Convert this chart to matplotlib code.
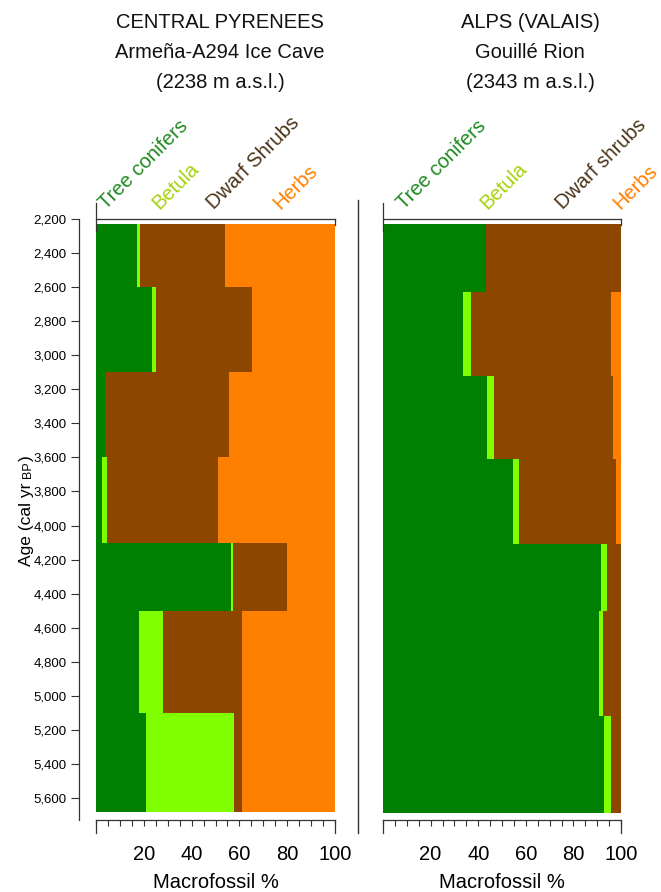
import numpy as np
import matplotlib
matplotlib.use('Agg')
import matplotlib.pyplot as plt
from matplotlib.lines import Line2D
from matplotlib.transforms import blended_transform_factory

plt.rcParams['font.family'] = ['Liberation Sans', 'DejaVu Sans']

# --- data (ages in cal yr BP, values in %) ---
taxa_pyr = ['Tree conifers', 'Betula', 'Dwarf Shrubs', 'Herbs']
taxa_alps = ['Tree conifers', 'Betula', 'Dwarf shrubs', 'Herbs']

pyr_top = [2230, 2600, 3100, 3600, 4100, 4500, 5100]
pyr_bottom = [2600, 3100, 3600, 4100, 4500, 5100, 5680]
pyr_conifers = [17.2, 23.3, 3.8, 2.4, 56.3, 18.0, 20.9]
pyr_betula = [1.2, 1.7, 0.0, 2.1, 0.9, 10.2, 36.7]
pyr_shrubs = [35.6, 40.3, 51.8, 46.5, 22.8, 32.8, 3.6]
pyr_herbs = [46.0, 34.7, 44.4, 49.0, 20.0, 39.0, 38.8]

alps_top = [2230, 2630, 3120, 3610, 4110, 4500, 5120]
alps_bottom = [2630, 3120, 3610, 4110, 4500, 5120, 5690]
alps_conifers = [43.1, 33.5, 43.9, 54.5, 91.8, 90.8, 92.7]
alps_betula = [0.0, 3.4, 2.7, 2.8, 2.5, 1.8, 3.1]
alps_shrubs = [56.9, 59.1, 49.9, 40.5, 5.7, 7.4, 4.2]
alps_herbs = [0.0, 4.0, 3.5, 2.2, 0.0, 0.0, 0.0]

age_ticks = list(range(2200, 5601, 200))

fill_colors = ['#008000', '#80ff00', '#8c4600', '#ff8000']
label_colors = ['#1f8a1f', '#a6d10a', '#4a3318', '#ff8000']
line_col = '#333333'

fig = plt.figure(figsize=(6.61, 8.92), dpi=100)
ax1 = fig.add_axes([96 / 661, 0.0805, 239 / 661, 0.674])
ax2 = fig.add_axes([383 / 661, 0.0805, 238 / 661, 0.674])


def draw_panel(ax, top, bottom, series, taxa, label_x):
    top = np.array(top, dtype=float)
    height = np.array(bottom, dtype=float) - top
    left = np.zeros(len(top))
    for vals, col in zip(series, fill_colors):
        vals = np.array(vals)
        ax.barh(top, vals, height=height, left=left, align='edge',
                color=col, linewidth=0, antialiased=False)
        left += vals
    ax.set_xlim(0, 100)
    ax.set_ylim(5730, 2200)

    for s in ['right', 'left']:
        ax.spines[s].set_visible(False)
    for s in ['top', 'bottom']:
        ax.spines[s].set_color(line_col)
        ax.spines[s].set_linewidth(0.9)

    ax.set_xticks(range(0, 101, 20))
    ax.set_xticklabels(['', '20', '40', '60', '80', '100'])
    ax.set_xticks(range(0, 101, 5), minor=True)
    ax.tick_params(axis='x', which='both', direction='out', length=4,
                   width=0.8, color=line_col, labelsize=14.5, pad=14)
    ax.set_xlabel('Macrofossil %', fontsize=14.5, labelpad=6)

    # end marks of the axis frame
    tr = ax.transAxes
    for xs, ys in [([0, 0], [0, -0.021]), ([1, 1], [0, -0.021]),
                   ([0, 0], [1.027, 0.98]), ([1, 1], [1, 0.99])]:
        ax.add_line(Line2D(xs, ys, transform=tr, color=line_col, lw=0.9,
                           clip_on=False))

    bt = blended_transform_factory(ax.transData, ax.transAxes)
    for name, x, col in zip(taxa, label_x, label_colors):
        ax.text(x, 1.01, name, transform=bt, rotation=45,
                rotation_mode='anchor', ha='left', va='bottom',
                color=col, fontsize=14.5, clip_on=False)


draw_panel(ax1, pyr_top, pyr_bottom,
           [pyr_conifers, pyr_betula, pyr_shrubs, pyr_herbs],
           taxa_pyr, [5.5, 27.5, 50.5, 78.5])
draw_panel(ax2, alps_top, alps_bottom,
           [alps_conifers, alps_betula, alps_shrubs, alps_herbs],
           taxa_alps, [10, 45, 77, 101])

# age axis on the left panel only
ax1.spines['left'].set_visible(True)
ax1.spines['left'].set_position(('outward', 12))
ax1.spines['left'].set_color(line_col)
ax1.spines['left'].set_linewidth(0.9)
ax1.set_yticks(age_ticks)
ax1.set_yticklabels([f'{a:,}' for a in age_ticks])
ax1.tick_params(axis='y', direction='out', length=6, width=0.8,
                color=line_col, labelsize=9.5, pad=3)
ax2.tick_params(axis='y', left=False, labelleft=False)

# y label, with "BP" in small capitals, built piece by piece
renderer = fig.canvas.get_renderer()
y_pos = 1 - 566 / 892
for piece, size in [('Age (cal yr ', 12.5), ('BP', 9), (')', 12.5)]:
    t = fig.text(31 / 661, y_pos, piece, rotation=90, rotation_mode='anchor',
                 ha='left', va='baseline', fontsize=size)
    ext = t.get_window_extent(renderer)
    y_pos += ext.height / fig.bbox.height

# divider between the two sites
fig.add_artist(Line2D([358 / 661, 358 / 661], [0.066, 0.776],
                      color=line_col, lw=1.0))

titles = [('CENTRAL PYRENEES', 'Armeña-A294 Ice Cave', '(2238 m a.s.l.)'),
          ('ALPS (VALAIS)', 'Gouillé Rion', '(2343 m a.s.l.)')]
for cx, lines in zip([220 / 661, 530 / 661], titles):
    for i, line in enumerate(lines):
        fig.text(cx, 1 - (23 + 30 * i) / 892, line, ha='center', va='center',
                 fontsize=14.5, color='#111111')

fig.savefig('out.png', dpi=100)
